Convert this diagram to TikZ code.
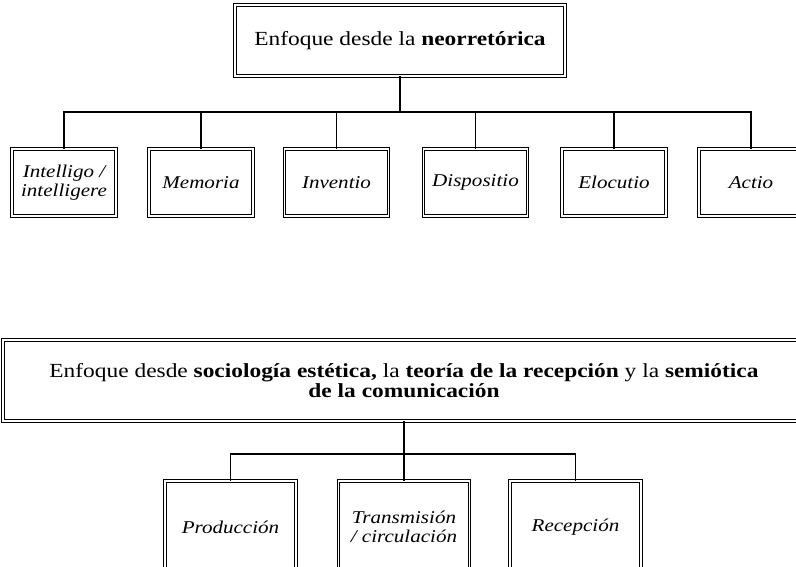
\documentclass[tikz,border=0pt]{standalone}
\usepackage{fontspec}
\setmainfont[FakeStretch=1.17]{Liberation Serif}
\usepackage{tikz}

\begin{document}
\begin{tikzpicture}[x=1pt, y=-1pt,
  main/.style = {draw, double, line width=0.9pt, double distance=1.4pt, rectangle, inner sep=2pt, align=center, font=\fontsize{20}{20}\selectfont},
  sub/.style = {main, minimum width=104pt, minimum height=67pt, font=\fontsize{18}{19}\selectfont\itshape},
  link/.style = {line width=1.3pt}]
\useasboundingbox (0,0) rectangle (796,567);

\node[main, minimum width=330pt, minimum height=71pt] (1) at (400,40.5) {Enfoque desde la \textbf{neorretórica}};
\coordinate (bar1) at (400,112);

\node[sub] (2) at (64,182.5) {Intelligo /\\ intelligere};
\node[sub] (3) at (201,182.5) {Memoria};
\node[sub] (4) at (336.5,182.5) {Inventio};
\node[sub] (5) at (475.5,182.5) {Dispositio};
\node[sub] (6) at (614,182.5) {Elocutio};
\node[sub] (7) at (751,182.5) {Actio};

\node[main, minimum width=802pt, minimum height=81pt] (8) at (404,380.5) {Enfoque desde \textbf{sociología estética,} la \textbf{teoría de la recepción} y la \textbf{semiótica}\\ \textbf{de la comunicación}};
\coordinate (bar2) at (404,454);

\node[sub, minimum width=131pt, minimum height=92pt] (9) at (230.5,527) {Producción};
\node[sub, minimum width=131pt, minimum height=92pt] (10) at (404,527) {Transmisión\\ / circulación};
\node[sub, minimum width=131pt, minimum height=92pt] (11) at (575.5,527) {Recepción};

\draw[link] (1)--(bar1);
\draw[link] (bar1)-|(2); \draw[link] (bar1)-|(3); \draw[link] (bar1)-|(4);
\draw[link] (bar1)-|(5); \draw[link] (bar1)-|(6); \draw[link] (bar1)-|(7);

\draw[link] (8)--(bar2);
\draw[link] (bar2)-|(9); \draw[link] (bar2)-|(10); \draw[link] (bar2)-|(11);

\end{tikzpicture}
\end{document}
